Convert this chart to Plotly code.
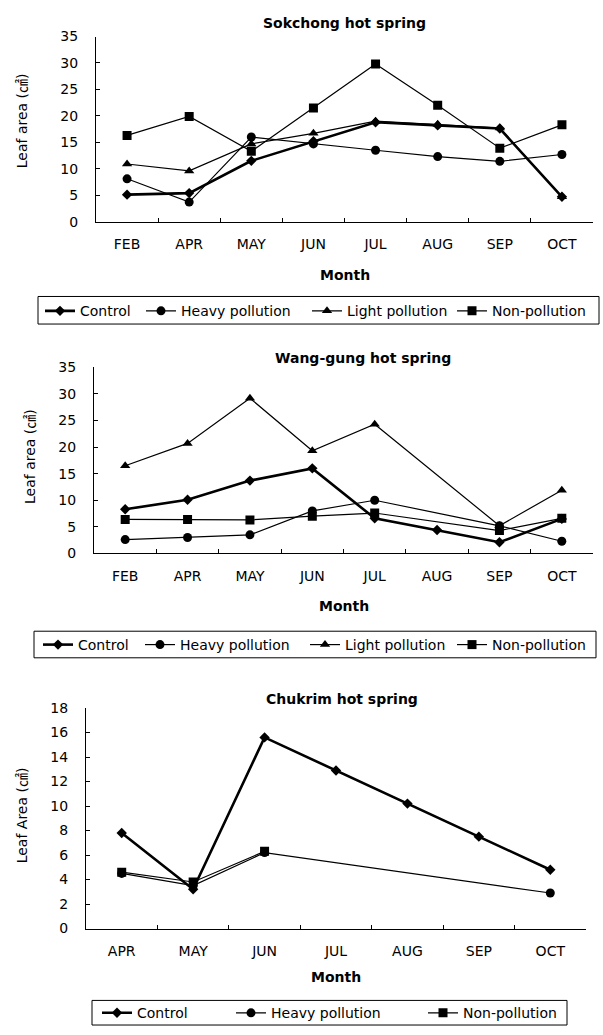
import plotly.graph_objects as go

# ---------------- data ----------------
months_a = ["FEB", "APR", "MAY", "JUN", "JUL", "AUG", "SEP", "OCT"]
months_c = ["APR", "MAY", "JUN", "JUL", "AUG", "SEP", "OCT"]

sok_control = [5.1, 5.4, 11.5, 15.2, 18.8, 18.2, 17.6, 4.7]
sok_heavy = [8.1, 3.7, 16.0, 14.7, 13.5, 12.3, 11.4, 12.7]
sok_light = [10.9, 9.6, 14.7, 16.7, 19.0, 18.4, 17.7, 4.7]
sok_non = [16.3, 19.9, 13.3, 21.5, 29.8, 22.0, 13.9, 18.3]

wg_control = [8.3, 10.1, 13.7, 16.0, 6.6, 4.4, 2.1, 6.5]
wg_heavy = [2.6, 3.0, 3.5, 8.0, 10.0, None, 5.2, 2.3]
wg_light = [16.5, 20.7, 29.2, 19.3, 24.3, None, 5.2, 11.9]
wg_non = [6.4, 6.4, 6.3, 7.0, 7.6, None, 4.3, 6.6]

ck_control = [7.8, 3.2, 15.6, 12.9, 10.2, 7.5, 4.8]
ck_heavy = [4.5, 3.5, 6.2, None, None, None, 2.9]
ck_non = [4.6, 3.8, 6.3, None, None, None, None]

titles = ["Sokchong hot spring", "Wang-gung hot spring", "Chukrim hot spring"]
ytitles = ["Leaf area (㎠)", "Leaf area (㎠)", "Leaf Area (㎠)"]
xtitle = "Month"

# ---------------- layout helpers ----------------
W, H = 603, 1035
def px(x):
    return x / W
def py(y):
    return 1 - y / H

FONT = "DejaVu Sans, Noto Sans CJK KR, sans-serif"

styles = {
    "Control": dict(symbol="diamond", size=8, width=2.6),
    "Heavy pollution": dict(symbol="circle", size=9, width=1.2),
    "Light pollution": dict(symbol="triangle-up", size=9, width=1.2),
    "Non-pollution": dict(symbol="square", size=9, width=1.2),
}

panels = [
    dict(x=months_a, series=[("Control", sok_control), ("Heavy pollution", sok_heavy),
                             ("Light pollution", sok_light), ("Non-pollution", sok_non)],
         xd=(96, 593), y0=217, ytop=29, ymax=35, dtick=5,
         title_y=15, title_x=345, ytitle_x=22, ytitle_y=115, month_y=271,
         leg_y=308, leg_x=[40, 141, 307, 452], box=(38, 293, 599, 321)),
    dict(x=months_a, series=[("Control", wg_control), ("Heavy pollution", wg_heavy),
                             ("Light pollution", wg_light), ("Non-pollution", wg_non)],
         xd=(94, 593), y0=554, ytop=365, ymax=35, dtick=5,
         title_y=356, title_x=363, ytitle_x=30, ytitle_y=456, month_y=607,
         leg_y=647, leg_x=[38, 140, 305, 452], box=(34, 633, 596, 660)),
    dict(x=months_c, series=[("Control", ck_control), ("Heavy pollution", ck_heavy),
                             ("Non-pollution", ck_non)],
         xd=(86, 586), y0=935, ytop=711, ymax=18, dtick=2,
         title_y=702, title_x=342, ytitle_x=22, ytitle_y=820, month_y=984,
         leg_y=1021, leg_x=[97, 231, 423], box=(92, 1008, 567, 1033)),
]

fig = go.Figure()
annotations = []
shapes = []
legend_count = 0
layout_extra = {}

for i, p in enumerate(panels):
    k = "" if i == 0 else str(i + 1)
    xa, ya = "x" + k, "y" + k
    for j, (name, vals) in enumerate(p["series"]):
        legend_count += 1
        lg = "legend" if legend_count == 1 else "legend" + str(legend_count)
        st = styles[name]
        fig.add_trace(go.Scatter(
            x=p["x"], y=vals, name=name, mode="lines+markers",
            connectgaps=True, xaxis=xa, yaxis=ya, legend=lg,
            line=dict(color="black", width=st["width"]),
            marker=dict(symbol=st["symbol"], size=st["size"], color="black"),
        ))
        layout_extra[lg] = dict(
            x=px(p["leg_x"][j]), y=py(p["leg_y"]), xanchor="left", yanchor="middle",
            orientation="h", bgcolor="rgba(0,0,0,0)", borderwidth=0,
            font=dict(family=FONT, size=14, color="black"),
        )
    layout_extra["xaxis" + k] = dict(
        domain=[px(p["xd"][0]), px(p["xd"][1])], anchor=ya,
        type="category", range=[-0.5, len(p["x"]) - 0.5],
        showline=True, linecolor="black", linewidth=1, mirror=False,
        ticks="inside", ticklen=4, tickcolor="black", tickson="boundaries",
        showgrid=False, zeroline=False, ticklabelstandoff=10,
        tickfont=dict(family=FONT, size=14, color="black"),
    )
    layout_extra["yaxis" + k] = dict(
        domain=[py(p["y0"]), py(p["ytop"])], anchor=xa,
        range=[0, p["ymax"]], dtick=p["dtick"], tick0=0,
        showline=True, linecolor="black", linewidth=1,
        ticks="inside", ticklen=4, tickcolor="black",
        showgrid=False, zeroline=False, ticklabelstandoff=14,
        tickfont=dict(family=FONT, size=14, color="black"),
    )
    annotations.append(dict(
        text=titles[i], x=px(p["title_x"]), y=py(p["title_y"]), xref="paper", yref="paper",
        showarrow=False, xanchor="center", yanchor="middle",
        font=dict(family=FONT, size=14, color="black", weight="bold"),
    ))
    annotations.append(dict(
        text=ytitles[i], x=px(p["ytitle_x"]), y=py(p["ytitle_y"]), xref="paper", yref="paper",
        showarrow=False, xanchor="center", yanchor="middle", textangle=-90,
        font=dict(family=FONT, size=14, color="black"),
    ))
    annotations.append(dict(
        text=xtitle, x=px((p["xd"][0] + p["xd"][1]) / 2), y=py(p["month_y"]),
        xref="paper", yref="paper", showarrow=False, xanchor="center", yanchor="middle",
        font=dict(family=FONT, size=14, color="black", weight="bold"),
    ))
    b = p["box"]
    shapes.append(dict(type="rect", xref="paper", yref="paper",
                       x0=px(b[0]), x1=px(b[2]), y0=py(b[3]), y1=py(b[1]),
                       line=dict(color="black", width=1)))

fig.update_layout(
    width=W, height=H, autosize=False,
    margin=dict(l=0, r=0, t=0, b=0),
    paper_bgcolor="white", plot_bgcolor="white",
    showlegend=True, hovermode=False,
    annotations=annotations, shapes=shapes,
    **layout_extra,
)

fig.write_html("out.html", config={"displayModeBar": False},
               post_script="document.body.style.margin='0';")
